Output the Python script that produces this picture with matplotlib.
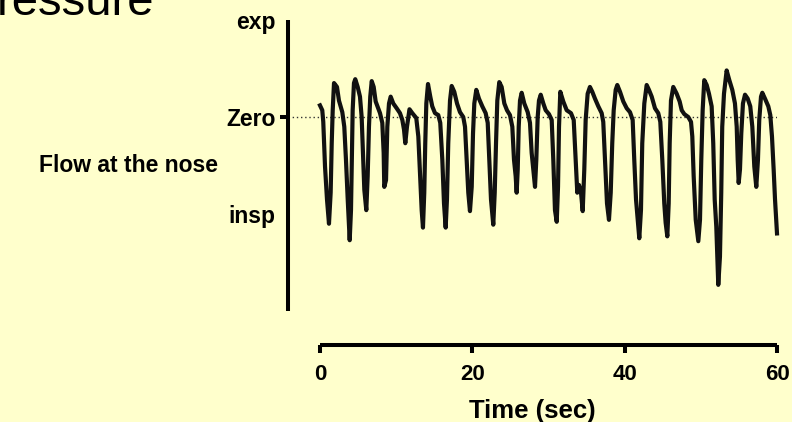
import matplotlib
matplotlib.use("Agg")
import matplotlib.pyplot as plt

plt.rcParams['font.family'] = ['Liberation Sans', 'DejaVu Sans']

# ---- data ----
time_s = [0.0, 0.30, 0.43, 0.66, 0.92, 1.18, 1.40, 1.54, 1.67, 1.84, 2.23, 2.49, 2.93, 3.19, 3.41, 3.64,
          3.90, 4.07, 4.20, 4.29, 4.46, 4.63, 4.95, 5.25, 5.47, 5.68, 5.82, 6.08, 6.26, 6.43, 6.60, 6.79,
          7.05, 7.31, 7.88, 8.18, 8.36, 8.44, 8.67, 8.84, 9.06, 9.28, 9.62, 10.07, 10.50, 10.81, 11.03,
          11.20, 11.42, 11.75, 12.12, 12.64, 12.91, 13.13, 13.35, 13.52, 13.69, 13.82, 13.96, 14.18,
          14.48, 14.74, 15.10, 15.53, 15.79, 16.06, 16.28, 16.50, 16.67, 16.84, 17.07, 17.29, 17.63,
          17.99, 18.38, 18.81, 19.04, 19.26, 19.47, 19.69, 19.92, 20.09, 20.26, 20.52, 20.87, 21.31,
          21.75, 22.02, 22.23, 22.45, 22.75, 22.94, 23.11, 23.28, 23.54, 23.85, 24.20, 24.55, 24.94,
          25.25, 25.47, 25.69, 25.82, 25.96, 26.09, 26.26, 26.48, 26.82, 27.27, 27.57, 27.79, 28.00,
          28.23, 28.40, 28.58, 28.75, 28.98, 29.32, 29.63, 30.06, 30.42, 30.63, 30.85, 31.08, 31.25,
          31.38, 31.55, 31.94, 32.39, 32.95, 33.31, 33.57, 33.78, 34.00, 34.27, 34.49, 34.70, 34.88,
          35.14, 35.44, 35.75, 36.10, 36.54, 36.98, 37.19, 37.42, 37.68, 37.94, 38.17, 38.37, 38.56,
          38.82, 39.03, 39.39, 39.82, 40.27, 40.70, 41.05, 41.26, 41.49, 41.71, 41.92, 42.14, 42.31,
          42.58, 42.89, 43.19, 43.55, 43.98, 44.41, 44.68, 44.94, 45.20, 45.38, 45.60, 45.78, 45.91,
          46.08, 46.38, 46.83, 47.22, 47.49, 47.83, 48.35, 48.71, 48.88, 49.06, 49.33, 49.67, 49.89,
          50.06, 50.24, 50.45, 50.77, 51.07, 51.42, 51.63, 51.82, 52.03, 52.29, 52.51, 52.68, 52.81,
          53.04, 53.39, 53.74, 54.13, 54.48, 54.71, 54.84, 54.97, 55.14, 55.31, 55.53, 55.80, 56.15,
          56.49, 56.76, 57.02, 57.28, 57.50, 57.67, 57.90, 58.07, 58.42, 58.86, 59.12, 59.34, 59.56,
          59.74, 60.0]
flow = [0.12, 0.07, -0.05, -0.51, -0.85, -1.10, -0.78, -0.27, 0.07, 0.35, 0.31, 0.17, 0.05, -0.10, -0.44, -0.85,
        -1.27, -0.96, -0.37, 0.07, 0.35, 0.39, 0.31, 0.21, 0.00, -0.44, -0.75, -0.96, -0.61, -0.10, 0.21, 0.37,
        0.31, 0.16, 0.04, -0.06, -0.37, -0.72, -0.65, -0.10, 0.14, 0.21, 0.14, 0.09, 0.04, -0.03, -0.13,
        -0.27, -0.10, 0.08, 0.04, -0.01, -0.20, -0.58, -0.96, -1.14, -0.78, -0.27, 0.14, 0.34,
        0.21, 0.11, 0.04, 0.02, -0.06, -0.44, -0.89, -1.14, -0.85, -0.27, 0.17, 0.32, 0.26,
        0.14, 0.05, 0.00, -0.10, -0.44, -0.78, -0.97, -0.72, -0.17, 0.14, 0.28, 0.19, 0.11,
        0.04, -0.06, -0.44, -0.85, -1.11, -0.78, -0.27, 0.17, 0.36, 0.31, 0.14, 0.07, 0.02,
        -0.10, -0.44, -0.61, -0.78, -0.54, -0.10, 0.17, 0.25, 0.14, 0.05, -0.06, -0.37, -0.54,
        -0.72, -0.44, 0.00, 0.17, 0.23, 0.14, 0.07, 0.03, -0.03, -0.44, -0.96, -1.08, -0.72,
        -0.10, 0.26, 0.16, 0.07, 0.04, -0.03, -0.44, -0.78, -0.70, -0.78, -0.97, -0.54, -0.03,
        0.24, 0.31, 0.26, 0.19, 0.11, 0.04, -0.05, -0.44, -0.89, -1.06, -0.78, -0.27, 0.07,
        0.28, 0.33, 0.26, 0.16, 0.09, 0.05, -0.03, -0.44, -0.85, -1.06, -1.25, -0.96, -0.27,
        0.14, 0.33, 0.28, 0.21, 0.09, 0.04, -0.05, -0.44, -0.89, -1.09, -1.23, -0.89, -0.27,
        0.17, 0.31, 0.24, 0.16, 0.07, 0.03, 0.00, -0.05, -0.20, -0.61, -1.06, -1.28, -1.06,
        -0.44, 0.07, 0.38, 0.33, 0.24, 0.11, -0.27, -0.85, -1.13, -1.73, -1.44, -0.78, -0.10,
        0.24, 0.48, 0.38, 0.28, 0.14, -0.10, -0.44, -0.68, -0.54, -0.17, 0.14, 0.23, 0.19,
        0.11, -0.10, -0.51, -0.72, -0.44, -0.03, 0.21, 0.25, 0.19, 0.11, 0.02, -0.20, -0.54,
        -0.85, -1.20]

y_ticks = [-1, 0, 1]
y_tick_labels = ['insp', 'Zero', 'exp']
x_ticks = [0, 20, 40, 60]

bg = '#FFFFCC'
W, H = 792, 422
fig = plt.figure(figsize=(W / 100, H / 100), dpi=100, facecolor=bg)

ax_l, ax_r, ax_t, ax_b = 288, 777, 20, 345
ax = fig.add_axes([ax_l / W, 1 - ax_b / H, (ax_r - ax_l) / W, (ax_b - ax_t) / H])
ax.set_facecolor(bg)

ax.plot(time_s, flow, color='#111111', lw=3.0, solid_joinstyle='round', clip_on=False, zorder=3)
ax.axhline(0, color='#333333', lw=1.0, ls=(0, (1, 2)), zorder=1)

ax.set_xlim(-4.2, 60)
ax.set_ylim(-2.35, 1.0)

for s in ['top', 'right']:
    ax.spines[s].set_visible(False)
ax.spines['left'].set_bounds(-2, 1)
ax.spines['bottom'].set_bounds(0, 60)
for s in ['left', 'bottom']:
    ax.spines[s].set_linewidth(2.9)
    ax.spines[s].set_color('black')
    ax.spines[s].set_capstyle('butt')

ax.set_xticks(x_ticks)
ax.set_xticklabels([str(v) for v in x_ticks], fontsize=16, fontweight='bold')
ax.set_yticks(y_ticks)
ax.set_yticklabels(y_tick_labels, fontsize=16.5, fontweight='bold')
ax.tick_params(axis='x', direction='out', length=6, width=2.9, pad=8)
ax.tick_params(axis='y', direction='out', length=6, width=2.9, pad=3)
yt = ax.yaxis.get_major_ticks()
yt[0].tick1line.set_visible(False)
yt[2].tick1line.set_visible(False)

ax.set_xlabel('Time (sec)', fontsize=18.5, fontweight='bold', labelpad=10)

fig.text(218 / W, 1 - 166 / H, 'Flow at the nose', fontsize=16.5, fontweight='bold',
         ha='right', va='center')
fig.text(-3 / W, 1 - 15 / H, 'ressure', fontsize=34, ha='left', va='baseline')

fig.savefig('out.png', dpi=100, facecolor=bg)
